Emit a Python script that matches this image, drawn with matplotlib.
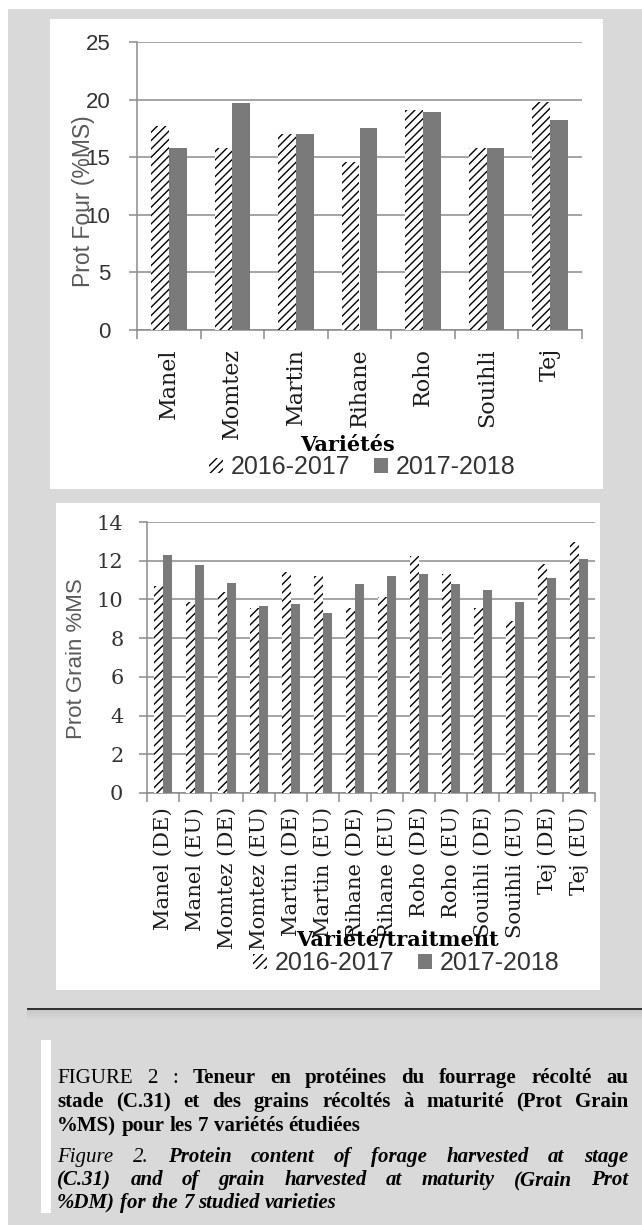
import matplotlib
matplotlib.use("Agg")
import matplotlib.pyplot as plt
from matplotlib.patches import Patch, Rectangle
from matplotlib.lines import Line2D
import numpy as np

# --- données ---
varietes = ["Manel", "Momtez", "Martin", "Rihane", "Roho", "Souihli", "Tej"]
four_2016 = [17.7, 15.8, 17.0, 14.6, 19.1, 15.8, 19.8]
four_2017 = [15.8, 19.7, 17.0, 17.5, 18.9, 15.8, 18.2]

traitements = ["Manel (DE)", "Manel (EU)", "Momtez (DE)", "Momtez (EU)",
               "Martin (DE)", "Martin (EU)", "Rihane (DE)", "Rihane (EU)",
               "Roho (DE)", "Roho (EU)", "Souihli (DE)", "Souihli (EU)",
               "Tej (DE)", "Tej (EU)"]
grain_2016 = [10.7, 9.85, 10.4, 9.55, 11.4, 11.2, 9.55, 10.15,
              12.25, 11.3, 9.55, 8.9, 11.85, 12.95]
grain_2017 = [12.3, 11.8, 10.85, 9.65, 9.75, 9.3, 10.8, 11.2,
              11.3, 10.8, 10.5, 9.85, 11.1, 12.1]

saisons = ["2016-2017", "2017-2018"]

W, H = 642, 1225
GRIS = "#d9d9d9"
BARRE = "#7a7a7a"
GRILLE = "#8c8c8c"
SERIF = "DejaVu Serif"
SANS = "Liberation Sans"
TEXTE = "Liberation Serif"

plt.rcParams["hatch.linewidth"] = 1.0

fig = plt.figure(figsize=(W / 100, H / 100), dpi=100)
fig.patch.set_facecolor("white")


def fx(px):
    return px / W


def fy(py):
    return 1 - py / H


def rect(x0, y0, x1, y1, color):
    fig.patches.append(Rectangle((fx(x0), fy(y1)), fx(x1) - fx(x0), fy(y0) - fy(y1),
                                 transform=fig.transFigure, facecolor=color,
                                 edgecolor="none", zorder=-10))


# fond et panneaux
rect(8, 9, W, H, GRIS)
rect(50, 19, 603, 489, "white")
rect(56, 503, 600, 990, "white")
rect(41, 1040, 51, 1213, "white")


def graphique(box, cats, v1, v2, ymax, ystep, tick_font, tick_size, xlab_size,
              ypad, xpad):
    x0, y0, x1, y1 = box
    ax = fig.add_axes([fx(x0), fy(y1), fx(x1) - fx(x0), fy(y0) - fy(y1)])
    ax.set_facecolor("none")
    x = np.arange(len(cats))
    w = 0.28
    ax.bar(x - w / 2, v1, w, facecolor="white", edgecolor="black", hatch="////",
           linewidth=0, zorder=3)
    ax.bar(x + w / 2, v2, w, color=BARRE, linewidth=0, zorder=3)
    ax.set_xlim(-0.5, len(cats) - 0.5)
    ax.set_ylim(0, ymax)
    ax.set_yticks(np.arange(0, ymax + 0.1, ystep))
    ax.set_yticklabels([f"{int(v)}" for v in ax.get_yticks()])
    ax.yaxis.grid(True, color=GRILLE, linewidth=1.1, zorder=0)
    ax.set_axisbelow(True)
    for s in ["top", "right"]:
        ax.spines[s].set_visible(False)
    for s in ["left", "bottom"]:
        ax.spines[s].set_color(GRILLE)
        ax.spines[s].set_linewidth(1.1)
    ax.tick_params(axis="y", length=6, width=1.1, color=GRILLE, pad=ypad,
                   labelsize=tick_size, labelcolor="#333333")
    for t in ax.get_yticklabels():
        t.set_family(tick_font)
    ax.set_xticks(x)
    ax.set_xticklabels(cats, rotation=90, family=SERIF, fontsize=xlab_size,
                       color="#1a1a1a")
    ax.set_xticks(np.arange(-0.5, len(cats)), minor=True)
    ax.tick_params(axis="x", which="major", length=0, pad=xpad)
    ax.tick_params(axis="x", which="minor", length=6.5, width=1.1, color=GRILLE)
    return ax


ax1 = graphique((137, 42, 582, 330), varietes, four_2016, four_2017, 25, 5,
                SANS, 16, 16, 13, 13)
ax2 = graphique((147, 522, 595, 793), traitements, grain_2016, grain_2017, 14, 2,
                SERIF, 15, 15.2, 11, 10)

fig.text(fx(84), fy(201), "Prot Four (%MS)", rotation=90, ha="center", va="center",
         family=SANS, fontsize=16.5, color="#595959")
fig.text(fx(76), fy(659), "Prot Grain %MS", rotation=90, ha="center", va="center",
         family=SANS, fontsize=16, color="#595959")
fig.text(fx(347), fy(445), "Variétés", ha="center", va="center",
         family=SERIF, fontsize=15, fontweight="bold", color="black")
fig.text(fx(397), fy(940), "Variété/traitment", ha="center", va="center",
         family=SERIF, fontsize=15, fontweight="bold", color="black")

poignees = [Patch(facecolor="white", edgecolor="black", hatch="////", linewidth=0),
            Patch(facecolor=BARRE, linewidth=0)]
for cx, cy in [(362, 467), (406, 963)]:
    leg = fig.legend(poignees, saisons, loc="center", bbox_to_anchor=(fx(cx), fy(cy)),
                     ncol=2, frameon=False, borderpad=0, handlelength=0.56,
                     handleheight=0.56, handletextpad=0.3, columnspacing=0.95,
                     prop={"family": SANS, "size": 18})
    for t in leg.get_texts():
        t.set_color("#333333")

# filet horizontal avec ombre
fig.lines.append(Line2D([fx(28), fx(W)], [fy(1009), fy(1009)], transform=fig.transFigure,
                        color="#2e2e2e", linewidth=1.4))
for i, a in enumerate([0.25, 0.18, 0.12, 0.07, 0.04]):
    yy = 1011 + i * 2
    fig.lines.append(Line2D([fx(28), fx(W)], [fy(yy), fy(yy)], transform=fig.transFigure,
                            color="#9a9a9a", linewidth=1.5, alpha=a))

# --- légende justifiée ---
renderer = fig.canvas.get_renderer()
CAP = 15


def ligne(mots, y, justifie, x0=57, x1=628):
    objs = []
    for txt, wt, st in mots:
        t = fig.text(0, fy(y), txt, family=TEXTE, fontsize=CAP, fontweight=wt,
                     fontstyle=st, va="baseline", ha="left", color="black")
        objs.append(t)
    larg = [t.get_window_extent(renderer).width for t in objs]
    if justifie and len(objs) > 1:
        esp = (x1 - x0 - sum(larg)) / (len(objs) - 1)
    else:
        esp = CAP * 0.25 * 100 / 72
    x = x0
    for t, l in zip(objs, larg):
        t.set_x(fx(x))
        x += l + esp


def mots(texte, wt, st):
    return [(m, wt, st) for m in texte.split()]


R, B, N, I = "normal", "bold", "normal", "italic"
ligne(mots("FIGURE 2 :", R, N) + mots("Teneur en protéines du fourrage récolté au", B, N),
      1083, True)
ligne(mots("stade (C.31) et des grains récoltés à maturité (Prot Grain", B, N), 1107, True)
ligne(mots("%MS) pour les 7 variétés étudiées", B, N), 1131, False)
ligne(mots("Figure 2.", R, I) + mots("Protein content of forage harvested at stage", B, I),
      1162, True)
ligne(mots("(C.31) and of grain harvested at maturity (Grain Prot", B, I), 1185, True)
ligne(mots("%DM) for the 7 studied varieties", B, I), 1208, False)

fig.savefig("out.png", dpi=100, facecolor=fig.get_facecolor())
